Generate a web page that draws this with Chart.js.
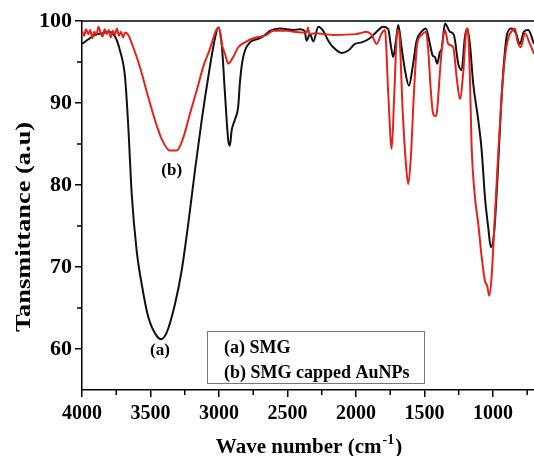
<!DOCTYPE html>
<html>
<head>
<meta charset="utf-8">
<script src="https://cdn.jsdelivr.net/npm/chart.js@4.4.1/dist/chart.umd.min.js"></script>
<style>
  html, body { margin: 0; padding: 0; background: #fff; }
  #wrap { width: 534px; height: 456px; }
</style>
</head>
<body>
<div id="wrap"><canvas id="ftir" width="534" height="456"></canvas></div>
<script>
// (a) SMG - black curve
const waveA = [4000, 3950, 3905, 3850, 3808, 3759, 3723, 3686, 3662, 3637, 3601, 3564, 3516, 3455, 3423, 3382,
  3321, 3272, 3224, 3175, 3126, 3078, 3029, 3005, 2980, 2956, 2932, 2920, 2908, 2883, 2860, 2847, 2830, 2810,
  2774, 2701, 2664, 2628, 2555, 2458, 2409, 2375, 2360, 2336, 2311, 2275, 2239, 2202, 2166, 2105, 2056, 2007,
  1958, 1898, 1849, 1801, 1764, 1747, 1728, 1708, 1691, 1667, 1642, 1613, 1586, 1557, 1521, 1489, 1460, 1440,
  1423, 1407, 1387, 1374, 1350, 1314, 1285, 1253, 1229, 1204, 1187, 1168, 1144, 1107, 1082, 1058, 1034, 1015,
  990, 966, 942, 920, 895, 863, 832, 803, 774, 742, 700];
const tA = [97.2, 97.8, 98.3, 98.5, 98.7, 98.1, 96.4, 93.2, 87.1, 78.9, 72.0, 67.9, 63.9, 61.6, 61.2, 62.0,
  65.5, 69.6, 75.3, 81.8, 87.9, 93.2, 97.9, 99.2, 97.2, 91.1, 85.4, 84.8, 86.6, 88.0, 89.5, 92.5, 95.0, 96.4,
  97.4, 97.9, 98.3, 98.8, 99.1, 98.9, 99.0, 98.8, 97.6, 98.4, 97.5, 99.3, 98.8, 97.6, 96.8, 96.1, 96.4, 97.2,
  97.4, 97.9, 98.7, 99.3, 99.0, 97.2, 95.6, 97.6, 99.5, 96.8, 94.0, 92.1, 94.4, 97.6, 98.7, 99.1, 97.2, 95.8,
  95.6, 94.8, 96.2, 96.6, 99.7, 98.7, 98.3, 94.8, 94.0, 98.1, 99.1, 97.2, 92.4, 87.9, 84.2, 78.5, 74.8, 72.4,
  74.4, 81.0, 89.1, 94.8, 98.5, 99.1, 98.5, 97.2, 98.7, 98.9, 97.2];

// (b) SMG capped AuNPs - red curve
const waveB = [4000, 3985, 3970, 3955, 3940, 3925, 3910, 3895, 3880, 3865, 3850, 3835, 3820, 3805, 3790, 3775,
  3760, 3745, 3730, 3715, 3700, 3685, 3662, 3626, 3577, 3516, 3467, 3418, 3358, 3309, 3260, 3212, 3163, 3115,
  3066, 3017, 3000, 2980, 2956, 2932, 2896, 2859, 2810, 2750, 2652, 2604, 2506, 2400, 2360, 2350, 2340, 2299,
  2166, 2000, 1971, 1922, 1885, 1849, 1812, 1788, 1764, 1739, 1720, 1698, 1684, 1659, 1637, 1618, 1599, 1577,
  1553, 1521, 1489, 1472, 1455, 1440, 1431, 1415, 1405, 1390, 1374, 1350, 1326, 1290, 1265, 1241, 1217, 1197,
  1185, 1168, 1156, 1131, 1107, 1082, 1058, 1042, 1027, 1010, 986, 961, 937, 912, 888, 856, 839, 822, 797,
  766, 730, 700];
const tB = [98.8, 98.2, 99.0, 98.4, 98.9, 97.9, 98.7, 98.3, 99.3, 98.6, 98.1, 99.0, 98.4, 98.9, 98.0, 98.8,
  98.3, 99.1, 98.2, 98.7, 98.0, 98.6, 98.3, 96.8, 94.4, 90.7, 87.9, 85.6, 84.2, 84.2, 85.8, 88.7, 91.5, 94.4,
  96.6, 99.0, 99.2, 97.2, 96.0, 94.8, 95.6, 96.8, 97.4, 97.9, 98.3, 98.8, 98.8, 98.6, 98.6, 99.2, 98.4, 98.5,
  98.3, 98.4, 98.5, 98.7, 98.3, 97.2, 98.5, 98.9, 91.1, 84.4, 91.1, 98.9, 98.5, 89.1, 83.0, 80.1, 83.4, 91.1,
  97.2, 98.3, 98.7, 96.4, 91.9, 89.0, 88.5, 88.4, 89.5, 93.0, 96.4, 98.9, 97.2, 96.8, 93.2, 90.5, 93.6, 98.5,
  99.1, 93.2, 85.0, 78.5, 75.3, 71.2, 68.3, 67.7, 66.5, 68.7, 76.1, 83.9, 90.7, 95.6, 97.9, 98.9, 99.1, 97.6, 96.8,
  98.5, 97.2, 96.0];

const xTicks = [4000, 3500, 3000, 2500, 2000, 1500, 1000];
const yTicks = [60, 70, 80, 90, 100];
const legendLines = ['(a) SMG', '(b) SMG capped AuNPs'];

const serif = '"Liberation Serif", "Times New Roman", serif';

function pts(xs, ys) {
  return xs.map((x, i) => ({ x: x, y: ys[i] }));
}

// extra drawing: top frame line, minor ticks, axis titles, legend box, curve labels
const extras = {
  id: 'extras',
  afterDraw(chart) {
    const ctx = chart.ctx;
    const a = chart.chartArea;
    const xs = chart.scales.x, ys = chart.scales.y;
    ctx.save();
    ctx.strokeStyle = '#000';
    ctx.lineWidth = 1.5;
    ctx.beginPath();
    ctx.moveTo(a.left, a.top);
    ctx.lineTo(a.right, a.top);
    ctx.stroke();

    // minor ticks
    ctx.beginPath();
    for (let v = 3750; v >= 750; v -= 500) {
      const px = xs.getPixelForValue(v);
      ctx.moveTo(px, a.bottom);
      ctx.lineTo(px, a.bottom + 5);
    }
    for (let v = 65; v <= 95; v += 10) {
      const py = ys.getPixelForValue(v);
      ctx.moveTo(a.left, py);
      ctx.lineTo(a.left - 5, py);
    }
    ctx.stroke();

    ctx.fillStyle = '#000';
    // y title (the original lettering is a bit stretched along its length)
    ctx.save();
    ctx.translate(24, 227);
    ctx.rotate(-Math.PI / 2);
    ctx.scale(1.2, 1);
    ctx.font = 'bold 22px ' + serif;
    ctx.textAlign = 'center';
    ctx.textBaseline = 'middle';
    ctx.fillText('Tansmittance (a.u)', 0, 0);
    ctx.restore();

    // x title with superscript
    const main = 'Wave number (cm', sup = '-1', end = ')';
    ctx.textBaseline = 'alphabetic';
    ctx.textAlign = 'left';
    ctx.font = 'bold 21px ' + serif;
    const w1 = ctx.measureText(main).width, w3 = ctx.measureText(end).width;
    ctx.font = 'bold 14px ' + serif;
    const w2 = ctx.measureText(sup).width;
    let x0 = (a.left + a.right) / 2 - (w1 + w2 + w3) / 2;
    const base = 453;
    ctx.font = 'bold 21px ' + serif;
    ctx.fillText(main, x0, base);
    ctx.font = 'bold 14px ' + serif;
    ctx.fillText(sup, x0 + w1 + 1, base - 9);
    ctx.font = 'bold 21px ' + serif;
    ctx.fillText(end, x0 + w1 + w2 + 2, base);

    // legend box
    ctx.strokeStyle = '#777';
    ctx.lineWidth = 1;
    ctx.strokeRect(207.5, 331.5, 217, 52);
    ctx.font = 'bold 18px ' + serif;
    ctx.textBaseline = 'middle';
    ctx.fillText(legendLines[0], 224, 348);
    ctx.fillText(legendLines[1], 224, 373);

    // curve labels
    ctx.font = 'bold 17px ' + serif;
    ctx.textAlign = 'center';
    ctx.fillText('(a)', xs.getPixelForValue(3431), ys.getPixelForValue(59.8));
    ctx.fillText('(b)', xs.getPixelForValue(3345), ys.getPixelForValue(81.8));
    ctx.restore();
  }
};

new Chart(document.getElementById('ftir'), {
  type: 'line',
  data: {
    datasets: [
      {
        label: '(b) SMG capped AuNPs',
        data: pts(waveB, tB),
        borderColor: '#e3231b',
        borderWidth: 2,
        pointRadius: 0,
        cubicInterpolationMode: 'monotone'
      },
      {
        label: '(a) SMG',
        data: pts(waveA, tA),
        borderColor: '#111111',
        borderWidth: 2,
        pointRadius: 0,
        cubicInterpolationMode: 'monotone'
      }
    ]
  },
  options: {
    responsive: false,
    animation: false,
    devicePixelRatio: 1,
    layout: { padding: { top: 21, right: 0, left: 0, bottom: 0 } },
    plugins: {
      legend: { display: false },
      tooltip: { enabled: false }
    },
    scales: {
      x: {
        type: 'linear',
        reverse: true,
        min: 700,
        max: 4000,
        afterBuildTicks: s => { s.ticks = xTicks.map(v => ({ value: v })); },
        afterFit: s => { s.height = 66; },
        border: { color: '#000', width: 1.5 },
        grid: { drawOnChartArea: false, drawTicks: true, tickLength: 7, color: '#000', lineWidth: 1.5 },
        ticks: {
          color: '#000',
          padding: 5,
          maxRotation: 0,
          autoSkip: false,
          font: { family: serif, size: 20, weight: 'bold' },
          callback: v => String(v)
        }
      },
      y: {
        min: 55,
        max: 100,
        afterBuildTicks: s => { s.ticks = yTicks.map(v => ({ value: v })); },
        afterFit: s => { s.width = 82; },
        border: { color: '#000', width: 1.5 },
        grid: { drawOnChartArea: false, drawTicks: true, tickLength: 7, color: '#000', lineWidth: 1.5 },
        ticks: {
          color: '#000',
          padding: 3,
          font: { family: serif, size: 22, weight: 'bold' },
          callback: v => String(v)
        }
      }
    }
  },
  plugins: [extras]
});
</script>
</body>
</html>
